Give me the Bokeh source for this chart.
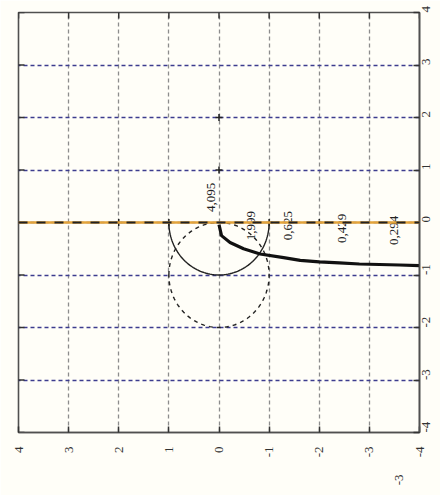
import math
import numpy as np
from bokeh.plotting import figure
from bokeh.models import Range1d, LinearAxis, FixedTicker, Span, ColumnDataSource
from bokeh.core.properties import value
from bokeh.embed import file_html
from bokeh.resources import INLINE

# ---- data (image orientation: horizontal = Im axis (reversed), vertical = Re axis) ----
tick_vals = [-4, -3, -2, -1, 0, 1, 2, 3, 4]
tick_labels = ["-4", "-3", "-2", "-1", "0", "1", "2", "3", "4"]

# stray label under the bottom axis
extra_tick = [-3.6]
extra_label = ["-3"]

# thick frequency-response curve
curve_im = [0.0, -0.05, -0.22, -0.49, -0.82, -1.29, -1.62, -2.0, -2.4, -2.8, -3.2, -3.6, -4.0]
curve_re = [-0.04, -0.25, -0.38, -0.50, -0.60, -0.67, -0.72, -0.75, -0.77, -0.79, -0.80, -0.81, -0.82]

# frequency labels
freq_text = ["4,095", "1,999", "0,625", "0,429", "0,294"]
freq_im = [0.16, -0.64, -1.38, -2.46, -3.5]
freq_re = [0.48, -0.06, -0.06, -0.11, -0.15]

# unit circle (solid, lower half) and circle centered at -1 (dashed)
unit_center = (0.0, 0.0)
unit_radius = 1.0
shift_center = (0.0, -1.0)
shift_radius = 1.0

# small axis tick crosses
cross_im = [0, 0, 1, 2, -1, -2]
cross_re = [1, 2, 0, 0, 0, 0]

FONT = "Liberation Serif"
BG = "#fffef8"
X_START, X_END = 4, -4
Y_START, Y_END = -4, 4

p = figure(width=440, height=495, x_range=Range1d(X_START, X_END), y_range=Range1d(Y_START, Y_END),
           output_backend="svg", toolbar_location=None,
           x_axis_location="below", y_axis_location="right",
           min_border_left=18, min_border_top=12, min_border_right=21, min_border_bottom=63,
           background_fill_color=BG, border_fill_color=BG,
           outline_line_color="#505050", outline_line_width=1.6)

bottom_axis = p.below[0]
right_axis = p.right[0]

overrides = {v: s for v, s in zip(tick_vals, tick_labels)}
for ax in [bottom_axis, right_axis]:
    ax.ticker = FixedTicker(ticks=tick_vals, minor_ticks=[])
    ax.major_tick_in = 6
    ax.major_tick_out = 0
    ax.minor_tick_in = 0
    ax.minor_tick_out = 0
    ax.minor_tick_line_color = None
    ax.axis_line_color = "#505050"
    ax.axis_line_width = 1.6
    ax.major_tick_line_color = "#333333"
    ax.major_tick_line_width = 1.5
    ax.major_label_text_font = FONT
    ax.major_label_text_color = "#333333"
    ax.major_label_overrides = overrides
    ax.major_label_orientation = math.pi / 2
    ax.major_label_text_font_size = "13px"
bottom_axis.major_label_standoff = 14
right_axis.major_label_standoff = 6

# second, line-less bottom axis carrying the stray "-3"
extra_axis = LinearAxis(ticker=FixedTicker(ticks=extra_tick, minor_ticks=[]),
                        major_label_overrides={v: s for v, s in zip(extra_tick, extra_label)},
                        axis_line_color=None, major_tick_line_color=None,
                        minor_tick_line_color=None,
                        major_tick_in=0, major_tick_out=0, minor_tick_in=0, minor_tick_out=0,
                        major_label_orientation=math.pi / 2, major_label_standoff=14,
                        major_label_text_font=FONT, major_label_text_font_size="13px",
                        major_label_text_color="#333333")
p.add_layout(extra_axis, "below")

# inward ticks on top and left frame edges (clipped half of a dash marker)
p.scatter(tick_vals, [Y_END] * len(tick_vals), marker="dash", angle=math.pi / 2, size=12,
          line_color="#333333", line_width=1.5)
p.scatter([X_START] * len(tick_vals), tick_vals, marker="dash", angle=0, size=12,
          line_color="#333333", line_width=1.5)

p.xgrid.ticker = FixedTicker(ticks=tick_vals)
p.ygrid.ticker = FixedTicker(ticks=tick_vals)
p.xgrid.grid_line_color = "#8c8c8c"
p.xgrid.grid_line_dash = "4 3"
p.xgrid.grid_line_width = 1.3
p.ygrid.grid_line_color = "#3c3c8e"
p.ygrid.grid_line_dash = "4 3"
p.ygrid.grid_line_width = 1.3

# real axis line (orange / black dash)
p.add_layout(Span(location=0, dimension="width", line_color="#e3a33a", line_width=2.5))
p.add_layout(Span(location=0, dimension="width", line_color="#222222", line_width=2.2,
                  line_dash="9 9"))

# circles
t_half = np.linspace(math.pi, 2 * math.pi, 80)
p.line(unit_center[0] + unit_radius * np.cos(t_half),
       unit_center[1] + unit_radius * np.sin(t_half),
       line_color="#222222", line_width=1.4)
t_full = np.linspace(0, 2 * math.pi, 160)
p.line(shift_center[0] + shift_radius * np.cos(t_full),
       shift_center[1] + shift_radius * np.sin(t_full),
       line_color="#222222", line_width=1.4, line_dash="4 4")

# thick curve
p.line(curve_im, curve_re, line_color="#111111", line_width=3.2)

# small crosses
p.scatter(cross_im, cross_re, marker="cross", size=7, line_color="#222222", line_width=1.5)

# frequency labels
src = ColumnDataSource(dict(x=freq_im, y=freq_re, t=freq_text))
p.text("x", "y", text="t", source=src, angle=math.pi / 2,
       text_font=value(FONT), text_font_size="13px", text_color="#222222",
       text_align="center", text_baseline="middle")

open("out.html", "w").write(file_html(p, INLINE))
